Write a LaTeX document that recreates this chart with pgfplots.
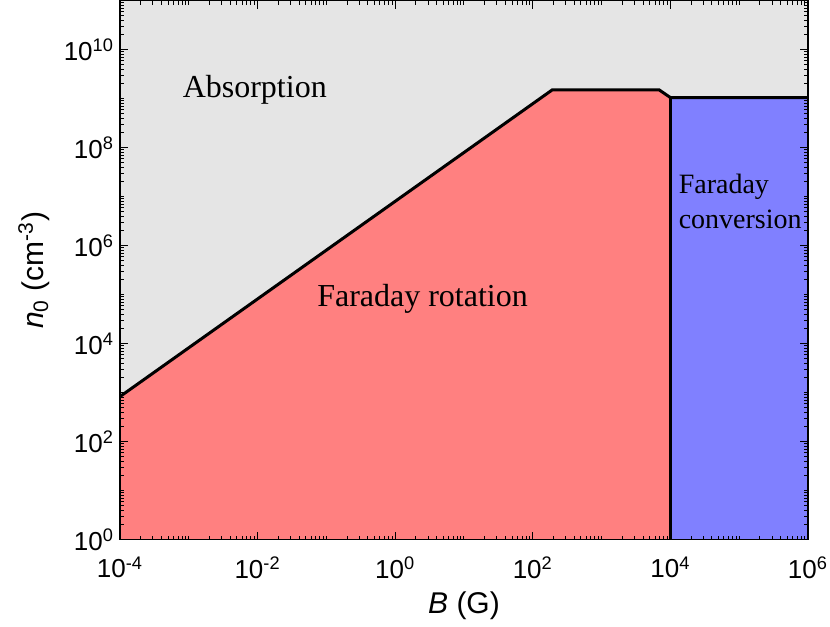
\documentclass[border=0pt]{standalone}
\usepackage{pgfplots}
\pgfplotsset{compat=1.18}
\usepackage{fontspec}
\setmainfont{Liberation Serif}
\setsansfont{Liberation Sans}

\definecolor{absgray}{RGB}{229,229,229}
\definecolor{rotred}{RGB}{255,128,128}
\definecolor{convblue}{RGB}{128,128,255}

\begin{document}
\begin{tikzpicture}
\begin{axis}[
    xmode=log, ymode=log,
    scale only axis,
    width=344pt, height=269.5pt,
    xmin=1e-4, xmax=1e6,
    ymin=1, ymax=1e11,
    axis background/.style={fill=absgray},
    axis on top,
    axis line style={line width=0.6pt},
    tick style={line width=0.5pt, black},
    tick align=inside,
    major tick length=4pt,
    minor tick length=2pt,
    xtick={1e-4,1e-2,1,1e2,1e4,1e6},
    xticklabels={10\textsuperscript{-4},10\textsuperscript{-2},10\textsuperscript{0},10\textsuperscript{2},10\textsuperscript{4},10\textsuperscript{6}},
    ytick={1,1e2,1e4,1e6,1e8,1e10},
    yticklabels={10\textsuperscript{0},10\textsuperscript{2},10\textsuperscript{4},10\textsuperscript{6},10\textsuperscript{8},10\textsuperscript{10}},
    minor xtick={2e-4,3e-4,4e-4,5e-4,6e-4,7e-4,8e-4,9e-4,
        1e-3,2e-3,3e-3,4e-3,5e-3,6e-3,7e-3,8e-3,9e-3,
        2e-2,3e-2,4e-2,5e-2,6e-2,7e-2,8e-2,9e-2,
        1e-1,2e-1,3e-1,4e-1,5e-1,6e-1,7e-1,8e-1,9e-1,
        2,3,4,5,6,7,8,9,
        10,20,30,40,50,60,70,80,90,
        200,300,400,500,600,700,800,900,
        1e3,2e3,3e3,4e3,5e3,6e3,7e3,8e3,9e3,
        2e4,3e4,4e4,5e4,6e4,7e4,8e4,9e4,
        1e5,2e5,3e5,4e5,5e5,6e5,7e5,8e5,9e5},
    minor ytick={2,3,4,5,6,7,8,9,
        10,20,30,40,50,60,70,80,90,
        200,300,400,500,600,700,800,900,
        1e3,2e3,3e3,4e3,5e3,6e3,7e3,8e3,9e3,
        2e4,3e4,4e4,5e4,6e4,7e4,8e4,9e4,
        1e5,2e5,3e5,4e5,5e5,6e5,7e5,8e5,9e5,
        2e6,3e6,4e6,5e6,6e6,7e6,8e6,9e6,
        1e7,2e7,3e7,4e7,5e7,6e7,7e7,8e7,9e7,
        2e8,3e8,4e8,5e8,6e8,7e8,8e8,9e8,
        1e9,2e9,3e9,4e9,5e9,6e9,7e9,8e9,9e9,
        2e10,3e10,4e10,5e10,6e10,7e10,8e10,9e10},
    ticklabel style={font=\sffamily\fontsize{13}{13}\selectfont},
    xticklabel style={yshift=-5pt, inner xsep=1pt},
    yticklabel style={xshift=0.5pt},
    label style={font=\sffamily\fontsize{15}{17}\selectfont},
    xlabel={{\itshape B} (G)},
    ylabel={{\itshape n}\textsubscript{0} (cm\textsuperscript{-3})},
    xlabel style={at={(axis description cs:0.5,-0.1225)}, anchor=center},
    ylabel style={at={(axis description cs:-0.125,0.5)}, anchor=center},
]
% Faraday rotation region
\addplot[fill=rotred, draw=none] coordinates {
    (1e-4,1) (1e-4,830) (191,1.5e9) (6.9e3,1.5e9) (1e4,1.05e9) (1e4,1)
} -- cycle;
% Faraday conversion region
\addplot[fill=convblue, draw=none] coordinates {
    (1e4,1) (1e4,1.05e9) (1e6,1.05e9) (1e6,1)
} -- cycle;
% boundaries
\addplot[black, line width=1.5pt] coordinates {
    (1e-4,830) (191,1.5e9) (6.9e3,1.5e9) (1e4,1.05e9) (1e6,1.05e9)
};
\addplot[black, line width=1.5pt] coordinates {(1e4,1) (1e4,1.05e9)};

\node[font=\fontsize{16}{19}\selectfont] at (axis cs:9.1e-3,1.5e9) {Absorption};
\node[font=\fontsize{16}{19}\selectfont] at (axis cs:2.5,8.3e4) {Faraday rotation};
\node[font=\fontsize{14}{17.5}\selectfont, align=left, anchor=west, inner sep=0pt, xshift=4pt] at (axis cs:1e4,8e6) {Faraday\\conversion};
\end{axis}
% left margin as in the reference
\path (current axis.south west) ++(-60pt,0);
\end{tikzpicture}
\end{document}
